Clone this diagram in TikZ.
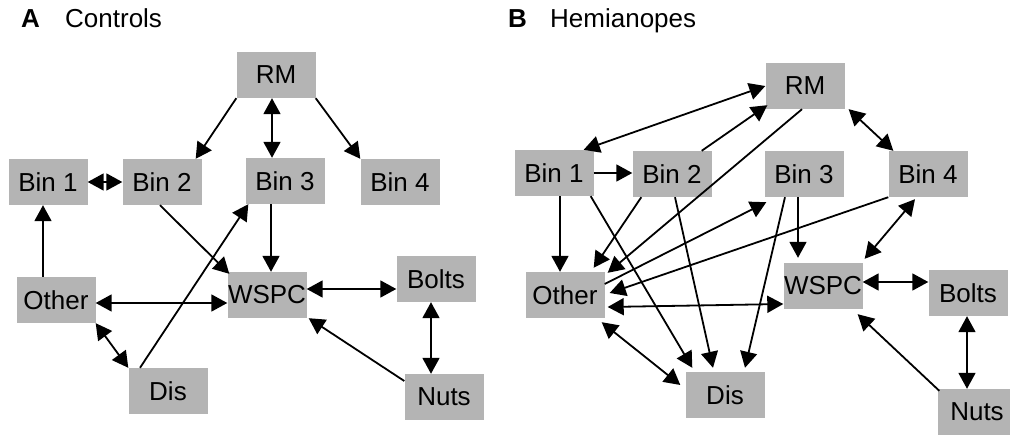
\documentclass[tikz,border=0pt]{standalone}
\usepackage{fontspec}
\setmainfont{Liberation Sans}
\usetikzlibrary{arrows.meta,calc}
\definecolor{boxgray}{RGB}{180,180,180}
\begin{document}
\begin{tikzpicture}[x=1pt,y=-1pt,
  box/.style={rectangle,fill=boxgray,minimum width=79pt,minimum height=46pt,inner sep=0pt,font=\fontsize{26}{29}\selectfont},
  heading/.style={anchor=base west,inner sep=0pt,font=\fontsize{26}{29}\selectfont},
  letter/.style={anchor=base west,inner sep=0pt,font=\bfseries\fontsize{26}{29}\selectfont},
  link/.style={line width=1.8pt,-{Triangle[length=16pt,width=17pt]}},
  both/.style={line width=1.8pt,{Triangle[length=16pt,width=17pt]}-{Triangle[length=16pt,width=17pt]}}]
\useasboundingbox (0,0) rectangle (1010,435);

% ---------- panel A: controls ----------
\node[letter] (aLetter) at (21,28) {A};
\node[heading] (aTitle) at (65,28) {Controls};

\node[box] (aRM) at (276,75) {RM};
\node[box] (aB1) at (48,182) {Bin 1};
\node[box] (aB2) at (162,182) {Bin 2};
\node[box] (aB3) at (285,181) {Bin 3};
\node[box] (aB4) at (400,182) {Bin 4};
\node[box] (aOt) at (56,300) {Other};
\node[box] (aWS) at (267,295) {WSPC};
\node[box] (aBo) at (436,279) {Bolts};
\node[box] (aDi) at (168,391) {Dis};
\node[box] (aNu) at (444,397) {Nuts};

\draw[link] (aRM.south west) -- ($(aB2.north east)+(-6,0)$);
\draw[both] ($(aRM.south)+(-4,0)$) -- ($(aB3.north)+(-13,0)$);
\draw[link] (aRM.south east) -- (aB4.north west);
\draw[both] (aB1.east) -- (aB2.west);
\draw[link] ($(aOt.north)+(-13,0)$) -- ($(aB1.south)+(-5,0)$);
\draw[link] ($(aB2.south)+(-2,0)$) -- ($(aWS.north west)+(2,2)$);
\draw[link] ($(aDi.north)+(-28,0)$) -- ($(aB3.south west)+(3,0)$);
\draw[link] ($(aB3.south)+(-14,0)$) -- ($(aWS.north)+(4,0)$);
\draw[both] ($(aOt.east)+(0,3)$) -- ($(aWS.west)+(0,8)$);
\draw[both] ($(aWS.east)+(0,-6)$) -- ($(aBo.west)+(0,10)$);
\draw[both] (aOt.south east) -- (aDi.north west);
\draw[link] ($(aNu.west)+(0,-16)$) -- ($(aWS.south east)+(2,0)$);
\draw[both] ($(aBo.south)+(-5,0)$) -- ($(aNu.north)+(-13,0)$);

% ---------- panel B: hemianopes ----------
\node[letter] (bLetter) at (508,28) {B};
\node[heading] (bTitle) at (550,28) {Hemianopes};

\node[box] (bRM) at (805,86) {RM};
\node[box] (bB1) at (554,173) {Bin 1};
\node[box] (bB2) at (672,174) {Bin 2};
\node[box] (bB3) at (804,174) {Bin 3};
\node[box] (bB4) at (928,174) {Bin 4};
\node[box] (bOt) at (565,295) {Other};
\node[box] (bWS) at (823,286) {WSPC};
\node[box] (bBo) at (968,293) {Bolts};
\node[box] (bDi) at (725,395) {Dis};
\node[box] (bNu) at (977,412) {Nuts};

\draw[both] (bRM.west) -- ($(bB1.north east)+(-10,0)$);
\draw[link] ($(bB2.north east)+(-10,0)$) -- ($(bRM.south west)+(2,-4)$);
\draw[link] ($(bRM.south)+(-3,0)$) -- ($(bOt.north east)+(3,1)$);
\draw[both] ($(bRM.south east)+(4,0)$) -- ($(bB4.north west)+(5,0)$);
\draw[link] (bB1.east) -- (bB1.east -| bB2.west);
\draw[link] ($(bB1.south)+(6,0)$) -- ($(bOt.north)+(-5,0)$);
\draw[link] ($(bB1.south east)+(-3,0)$) -- ($(bDi.north west)+(7,-4)$);
\draw[link] ($(bB2.south west)+(9,0)$) -- ($(bOt.north east)+(-11,-4)$);
\draw[link] ($(bB2.south)+(3,0)$) -- ($(bDi.north)+(-12,-4)$);
\draw[link] ($(bOt.east)+(0,-11)$) -- ($(bB3.south west)+(2,5)$);
\draw[link] ($(bB3.south)+(-19,0)$) -- ($(bDi.north)+(20,-4)$);
\draw[link] ($(bB3.south)+(-6,0)$) -- ($(bWS.north)+(-25,-5)$);
\draw[link] (bB4.south west) -- ($(bOt.east)+(5,-2)$);
\draw[both] ($(bB4.south)+(-13,2)$) -- ($(bWS.north east)+(2,-4)$);
\draw[both] ($(bOt.east)+(3,12)$) -- ($(bWS.west)+(0,18)$);
\draw[both] ($(bWS.east)+(0,-4)$) -- ($(bBo.west)+(0,-11)$);
\draw[both] ($(bOt.south east)+(-3,4)$) -- ($(bDi.west)+(-5,-10)$);
\draw[link] ($(bNu.north west)+(2,2)$) -- ($(bWS.south east)+(-5,5)$);
\draw[both] ($(bBo.south)+(-1,0)$) -- ($(bNu.north)+(-10,0)$);
\end{tikzpicture}
\end{document}
